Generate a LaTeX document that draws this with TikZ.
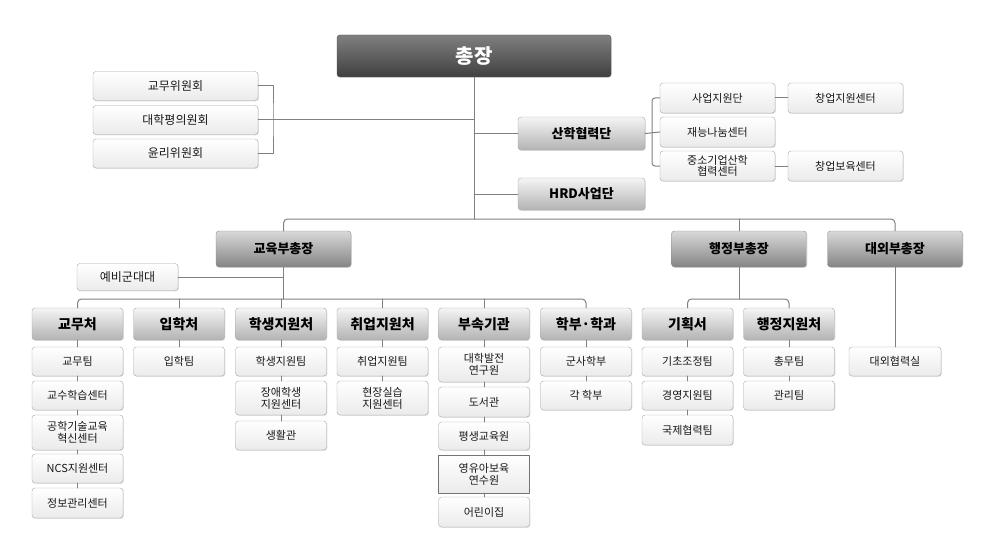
\documentclass[tikz,border=0pt]{standalone}
\usepackage{fontspec}
\setmainfont{Noto Sans CJK KR}
\usetikzlibrary{shadows}
\begin{document}
\begin{tikzpicture}[x=1pt, y=-1pt, line join=round, line cap=round,
  link/.style={draw=black!50, line width=1pt},
  box/.style={draw=black!35, rounded corners=3pt, inner sep=0pt, align=center,
    drop shadow={shadow xshift=0.8pt, shadow yshift=-0.8pt, opacity=0.25}},
  topbox/.style={box, draw=black!70, top color=black!50, bottom color=black!75, text=white,
    font=\bfseries\fontsize{20}{22}\selectfont, minimum width=274pt, minimum height=42pt},
  vpbox/.style={box, draw=black!45, top color=black!15, bottom color=black!48,
    font=\bfseries\fontsize{13}{15}\selectfont, minimum width=135pt, minimum height=36pt},
  headbox/.style={box, top color=black!4, bottom color=black!30,
    font=\bfseries\fontsize{14}{16}\selectfont, minimum width=91pt, minimum height=32pt},
  unitbox/.style={box, top color=white, bottom color=black!8, text=black!90,
    font=\fontsize{11}{12}\selectfont, minimum width=91pt, minimum height=29pt}]
\useasboundingbox (0,0) rectangle (997,543);
% top
\node[topbox] (chong) at (474,56) {총장};
\coordinate (busA) at (474,219);
% committees
\node[unitbox, minimum width=165pt, font=\fontsize{12}{13}\selectfont] (com1) at (175.5,86) {교무위원회};
\node[unitbox, minimum width=165pt, font=\fontsize{12}{13}\selectfont] (com2) at (175.5,120) {대학평의원회};
\node[unitbox, minimum width=165pt, font=\fontsize{12}{13}\selectfont] (com3) at (175.5,153.5) {윤리위원회};
\coordinate (combar) at (273,120);
% industry cooperation
\node[headbox, minimum width=127pt, minimum height=33pt, font=\bfseries\fontsize{13}{15}\selectfont] (sanhak) at (581.5,133.5) {산학협력단};
\node[headbox, minimum width=127pt, font=\bfseries\fontsize{13}{15}\selectfont] (hrd) at (581.5,194) {HRD사업단};
\node[unitbox, minimum width=115pt, minimum height=30pt] (sa1) at (717.5,98) {사업지원단};
\node[unitbox, minimum width=115pt, minimum height=30pt] (sa2) at (717.5,132) {재능나눔센터};
\node[unitbox, minimum width=115pt, minimum height=30pt, font=\fontsize{11}{11.5}\selectfont] (sa3) at (717.5,166) {중소기업산학\\협력센터};
\node[unitbox, minimum width=115pt, minimum height=30pt] (st1) at (845.5,98) {창업지원센터};
\node[unitbox, minimum width=115pt, minimum height=30pt] (st2) at (845.5,166) {창업보육센터};
\coordinate (sabar) at (652,133.5);
% vice presidents
\node[vpbox] (vpedu) at (283.5,249) {교육부총장};
\node[vpbox] (vpadm) at (739,249) {행정부총장};
\node[vpbox] (vpext) at (895,249) {대외부총장};
\node[unitbox, minimum width=101pt, minimum height=27pt, font=\fontsize{12}{13}\selectfont] (yebi) at (127.5,277) {예비군대대};
\coordinate (busB) at (283.5,299);
\coordinate (busC) at (739,299);
% offices
\node[headbox] (h1) at (77.5,324) {교무처};
\node[headbox] (h2) at (179,324) {입학처};
\node[headbox] (h3) at (281,324) {학생지원처};
\node[headbox] (h4) at (382.5,324) {취업지원처};
\node[headbox] (h5) at (484,324) {부속기관};
\node[headbox] (h6) at (586,324) {학부·학과};
\node[headbox] (h7) at (687.5,324) {기획서};
\node[headbox] (h8) at (789,324) {행정지원처};
% teams
\node[unitbox] (a1) at (77.5,361.5) {교무팀};
\node[unitbox] (a2) at (77.5,395.5) {교수학습센터};
\node[unitbox, minimum height=35pt] (a3) at (77.5,432.5) {공학기술교육\\혁신센터};
\node[unitbox] (a4) at (77.5,468.5) {NCS지원센터};
\node[unitbox, minimum height=30pt] (a5) at (77.5,503) {정보관리센터};
\node[unitbox] (b1) at (179,361.5) {입학팀};
\node[unitbox] (c1) at (281,361.5) {학생지원팀};
\node[unitbox, minimum height=34pt] (c2) at (281,398) {장애학생\\지원센터};
\node[unitbox] (c3) at (281,435.5) {생활관};
\node[unitbox] (d1) at (382.5,361.5) {취업지원팀};
\node[unitbox, minimum height=34pt] (d2) at (382.5,398) {현장실습\\지원센터};
\node[unitbox, minimum height=35pt] (e1) at (484,364.5) {대학발전\\연구원};
\node[unitbox, minimum height=30pt] (e2) at (484,402) {도서관};
\node[unitbox, minimum height=28pt] (e3) at (484,436) {평생교육원};
\node[unitbox, minimum height=38pt, sharp corners, draw=black!55] (e4) at (484,474) {영유아보육\\연수원};
\node[unitbox, minimum height=30pt] (e5) at (484,512) {어린이집};
\node[unitbox] (f1) at (586,361.5) {군사학부};
\node[unitbox] (f2) at (586,395.5) {각 학부};
\node[unitbox] (g1) at (687.5,361.5) {기초조정팀};
\node[unitbox] (g2) at (687.5,395.5) {경영지원팀};
\node[unitbox, minimum height=30pt] (g3) at (687.5,430) {국제협력팀};
\node[unitbox] (k1) at (789,361.5) {총무팀};
\node[unitbox] (k2) at (789,395.5) {관리팀};
\node[unitbox, minimum width=92pt] (ext1) at (895,361.5) {대외협력실};
% connectors
\draw[link] (chong.south) -- (busA);
\draw[link] (com1.east) -| (combar) |- (com3.east);
\draw[link] (com2.east) -- (com2.east -| busA);
\draw[link] (sanhak.west -| busA) -- (sanhak.west);
\draw[link] (hrd.west -| busA) -- (hrd.west);
\draw[link, rounded corners=3pt] (sa1.west) -| (sabar) |- (sa3.west);
\draw[link] (sanhak.east) -- (sa2.west);
\draw[link] (sa1.east) -- (st1.west);
\draw[link] (sa3.east) -- (st2.west);
\draw[link, rounded corners=4pt] (vpedu.north) |- (busA) -| (vpext.north);
\draw[link] (vpadm.north) -- (vpadm.north |- busA);
\draw[link] (vpedu.south) -- (busB);
\draw[link] (yebi.east) -- (yebi.east -| busB);
\draw[link, rounded corners=4pt] (h1.north) |- (busB) -| (h6.north);
\foreach \h in {h2,h3,h4,h5}
  \draw[link] (\h.north) -- (\h.north |- busB);
\draw[link] (vpadm.south) -- (busC);
\draw[link, rounded corners=4pt] (h7.north) |- (busC) -| (h8.north);
\draw[link] (vpext.south) -- (ext1.north);
\foreach \a/\b in {h1/a1,a1/a2,a2/a3,a3/a4,a4/a5,h2/b1,h3/c1,c1/c2,c2/c3,h4/d1,d1/d2,
  h5/e1,e1/e2,e2/e3,e3/e4,e4/e5,h6/f1,f1/f2,h7/g1,g1/g2,g2/g3,h8/k1,k1/k2}
  \draw[link] (\a.south) -- (\b.north);
\end{tikzpicture}
\end{document}
